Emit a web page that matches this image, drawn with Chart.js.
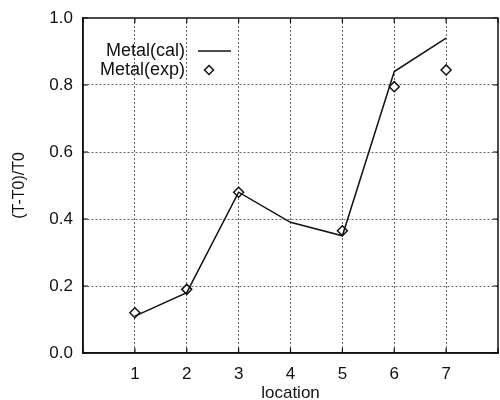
<!DOCTYPE html>
<html>
<head>
<meta charset="utf-8">
<script src="https://cdn.jsdelivr.net/npm/chart.js@4.4.0/dist/chart.umd.min.js"></script>
<style>
  html, body { margin: 0; padding: 0; background: #fff; overflow: hidden; }
  #wrap { width: 500px; height: 400px; }
</style>
</head>
<body>
<div id="wrap"><canvas id="chart"></canvas></div>
<script>
// data
const locations = [1, 2, 3, 4, 5, 6, 7];
const metalCal = [0.11, 0.18, 0.48, 0.39, 0.35, 0.84, 0.94];
const expLocations = [1, 2, 3, 5, 6, 7];
const metalExp = [0.12, 0.19, 0.48, 0.365, 0.795, 0.845];
const seriesNames = ['Metal(cal)', 'Metal(exp)'];
const xTitle = 'location';
const yTitle = '(T-T0)/T0';

const FONT = 'Liberation Sans, Arial, Helvetica, sans-serif';

// frame, inward ticks and the little key in the top left corner
const framePlugin = {
  id: 'frame',
  afterDraw(chart) {
    const ctx = chart.ctx;
    const a = chart.chartArea;
    const xs = chart.scales.x, ys = chart.scales.y;
    ctx.save();
    ctx.strokeStyle = '#111';
    ctx.lineWidth = 1.5;
    ctx.strokeRect(a.left, a.top, a.right - a.left, a.bottom - a.top);
    ctx.lineWidth = 1.2;
    ctx.beginPath();
    ys.ticks.forEach(t => {
      const y = ys.getPixelForValue(t.value);
      ctx.moveTo(a.left, y); ctx.lineTo(a.left + 5, y);
      ctx.moveTo(a.right, y); ctx.lineTo(a.right - 5, y);
    });
    xs.ticks.forEach(t => {
      const x = xs.getPixelForValue(t.value);
      ctx.moveTo(x, a.bottom); ctx.lineTo(x, a.bottom - 5);
      ctx.moveTo(x, a.top); ctx.lineTo(x, a.top + 5);
    });
    ctx.stroke();

    // key
    const kx = a.left + 102, ky = a.top + 33;
    ctx.fillStyle = '#111';
    ctx.font = '18px ' + FONT;
    ctx.textAlign = 'right';
    ctx.textBaseline = 'middle';
    ctx.fillText(chart.data.datasets[0].label, kx, ky);
    ctx.fillText(chart.data.datasets[1].label, kx, ky + 19);
    ctx.lineWidth = 1.5;
    ctx.beginPath();
    ctx.moveTo(kx + 13, ky); ctx.lineTo(kx + 46, ky);
    ctx.stroke();
    const dx = kx + 24, dy = ky + 19, r = 4.5;
    ctx.beginPath();
    ctx.moveTo(dx, dy - r); ctx.lineTo(dx + r, dy); ctx.lineTo(dx, dy + r); ctx.lineTo(dx - r, dy);
    ctx.closePath();
    ctx.fillStyle = '#fff';
    ctx.fill();
    ctx.stroke();
    ctx.restore();
  }
};

const gridColor = (ctx, lo, hi) => {
  const v = ctx.tick && ctx.tick.value;
  return (v === lo || v === hi) ? 'rgba(0,0,0,0)' : '#666';
};

const data = {
  datasets: [{
    label: seriesNames[0],
    data: locations.map((x, i) => ({ x: x, y: metalCal[i] })),
    borderColor: '#111',
    borderWidth: 1.5,
    pointRadius: 0,
    tension: 0,
    showLine: true,
    fill: false
  }, {
    label: seriesNames[1],
    data: expLocations.map((x, i) => ({ x: x, y: metalExp[i] })),
    showLine: false,
    pointStyle: 'rectRot',
    pointRadius: 5,
    pointBorderWidth: 1.5,
    pointBorderColor: '#111',
    pointBackgroundColor: '#fff'
  }]
};

const config = {
  type: 'scatter',
  data: data,
  options: {
    responsive: true,
    maintainAspectRatio: false,
    animation: false,
    layout: { autoPadding: false, padding: { top: 18, right: 2, left: 0, bottom: 0 } },
    plugins: {
      legend: { display: false },
      tooltip: { enabled: false }
    },
    scales: {
      x: {
        type: 'linear',
        min: 0,
        max: 8,
        ticks: {
          stepSize: 1,
          padding: 11,
          color: '#111',
          font: { family: FONT, size: 17 },
          callback: v => (v === 0 || v === 8) ? '' : String(v)
        },
        grid: {
          drawTicks: false,
          color: ctx => gridColor(ctx, 0, 8),
          lineWidth: 1
        },
        border: { display: true, color: '#111', width: 1.5, dash: [2, 2] },
        title: {
          display: true,
          text: xTitle,
          color: '#111',
          font: { family: FONT, size: 17 },
          padding: { top: 0, bottom: -4 }
        },
        afterFit: s => { s.height = 47; s.paddingLeft = 0; s.paddingRight = 0; }
      },
      y: {
        min: 0,
        max: 1,
        ticks: {
          stepSize: 0.2,
          padding: 10,
          color: '#111',
          font: { family: FONT, size: 17 },
          callback: v => v.toFixed(1)
        },
        grid: {
          drawTicks: false,
          color: ctx => gridColor(ctx, 0, 1),
          lineWidth: 1
        },
        border: { display: true, color: '#111', width: 1.5, dash: [2, 2] },
        title: {
          display: true,
          text: yTitle,
          color: '#111',
          font: { family: FONT, size: 16 },
          padding: { top: 10, bottom: 0 }
        },
        afterFit: s => { s.width = 83; s.paddingTop = 0; s.paddingBottom = 0; }
      }
    }
  },
  plugins: [framePlugin]
};

// dashed grid
Chart.defaults.scale.grid.borderDash = [2, 2];

const myChart = new Chart(document.getElementById('chart').getContext('2d'), config);
</script>
</body>
</html>
